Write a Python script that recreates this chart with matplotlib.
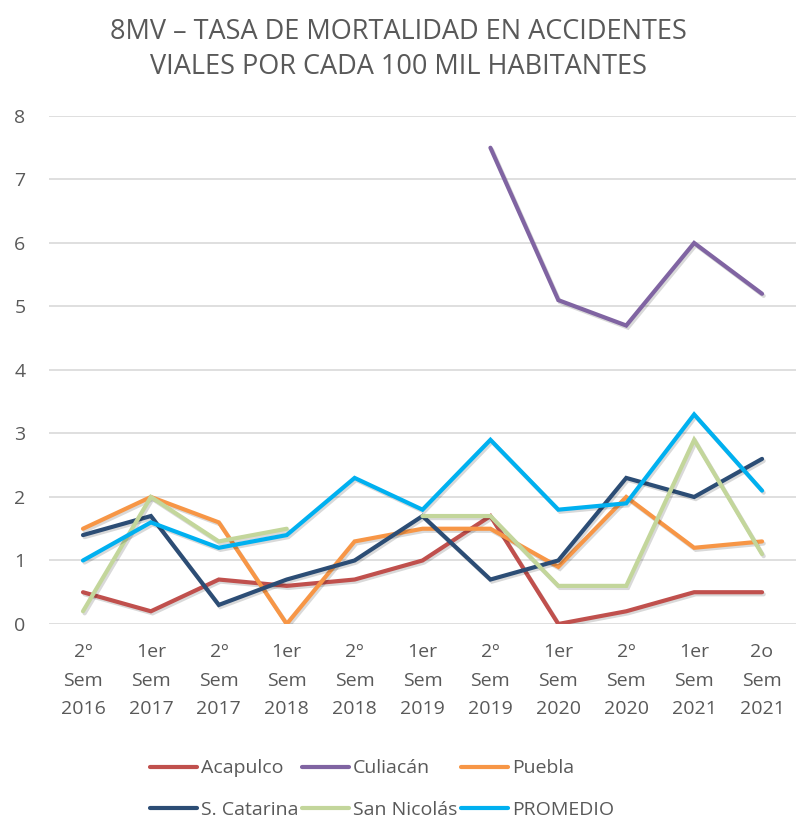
import matplotlib
matplotlib.use("Agg")
import matplotlib.pyplot as plt
import matplotlib.patheffects as pe
import numpy as np

categories = ["2º\nSem\n2016", "1er\nSem\n2017", "2º\nSem\n2017", "1er\nSem\n2018",
              "2º\nSem\n2018", "1er\nSem\n2019", "2º\nSem\n2019", "1er\nSem\n2020",
              "2º\nSem\n2020", "1er\nSem\n2021", "2o\nSem\n2021"]
nan = np.nan
acapulco = [0.5, 0.2, 0.7, 0.6, 0.7, 1.0, 1.7, 0.0, 0.2, 0.5, 0.5]
culiacan = [nan, nan, nan, nan, nan, nan, 7.5, 5.1, 4.7, 6.0, 5.2]
puebla = [1.5, 2.0, 1.6, 0.0, 1.3, 1.5, 1.5, 0.9, 2.0, 1.2, 1.3]
s_catarina = [1.4, 1.7, 0.3, 0.7, 1.0, 1.7, 0.7, 1.0, 2.3, 2.0, 2.6]
san_nicolas = [0.2, 2.0, 1.3, 1.5, nan, 1.7, 1.7, 0.6, 0.6, 2.9, 1.1]
promedio = [1.0, 1.6, 1.2, 1.4, 2.3, 1.8, 2.9, 1.8, 1.9, 3.3, 2.1]

series = [("Acapulco", acapulco, "#C0504D"),
          ("Culiacán", culiacan, "#8064A2"),
          ("Puebla", puebla, "#F79646"),
          ("S. Catarina", s_catarina, "#2C4D75"),
          ("San Nicolás", san_nicolas, "#C3D69B"),
          ("PROMEDIO", promedio, "#00B0F0")]

plt.rcParams['font.family'] = ['Open Sans', 'DejaVu Sans']
txt = "#595959"

fig = plt.figure(figsize=(7.96, 8.22), dpi=100)
ax = fig.add_axes([0.0616, 0.2409, 0.9384, 0.618])
x = np.arange(len(categories))
shadow = [pe.SimpleLineShadow(offset=(1.2, -1.5), alpha=0.15, shadow_color='black'), pe.Normal()]
lines = {}
for name, vals, col in series:
    ln, = ax.plot(x, vals, color=col, lw=3, label=name, solid_capstyle='round',
                  solid_joinstyle='miter', path_effects=shadow)
    lines[name] = ln

ax.set_xlim(-0.5, len(categories) - 0.5)
ax.set_ylim(0, 8)
ax.set_yticks(range(0, 9))
ax.set_xticks(x)
ax.set_xticklabels(categories, linespacing=1.72)
ax.tick_params(axis='both', length=0, labelsize=14, colors=txt)
ax.tick_params(axis='x', pad=14)
ax.tick_params(axis='y', pad=17)
ax.grid(axis='y', color='#D9D9D9', lw=1.2)
ax.set_axisbelow(True)
for s in ax.spines.values():
    s.set_visible(False)

fig.text(0.5, 0.978, "8MV – TASA DE MORTALIDAD EN ACCIDENTES\nVIALES POR CADA 100 MIL HABITANTES",
         ha='center', va='top', fontsize=19.5, color=txt, linespacing=1.35)

order = ["Acapulco", "S. Catarina", "Culiacán", "San Nicolás", "Puebla", "PROMEDIO"]
leg = fig.legend([lines[n] for n in order], order, loc='center', bbox_to_anchor=(0.48, 0.040),
                 ncol=3, frameon=False, fontsize=14, handlelength=2.4, handletextpad=0.2,
                 columnspacing=0.2, labelspacing=1.2)
for t in leg.get_texts():
    t.set_color(txt)
for h in leg.legend_handles:
    h.set_path_effects([])

fig.savefig("out.png", dpi=100)
